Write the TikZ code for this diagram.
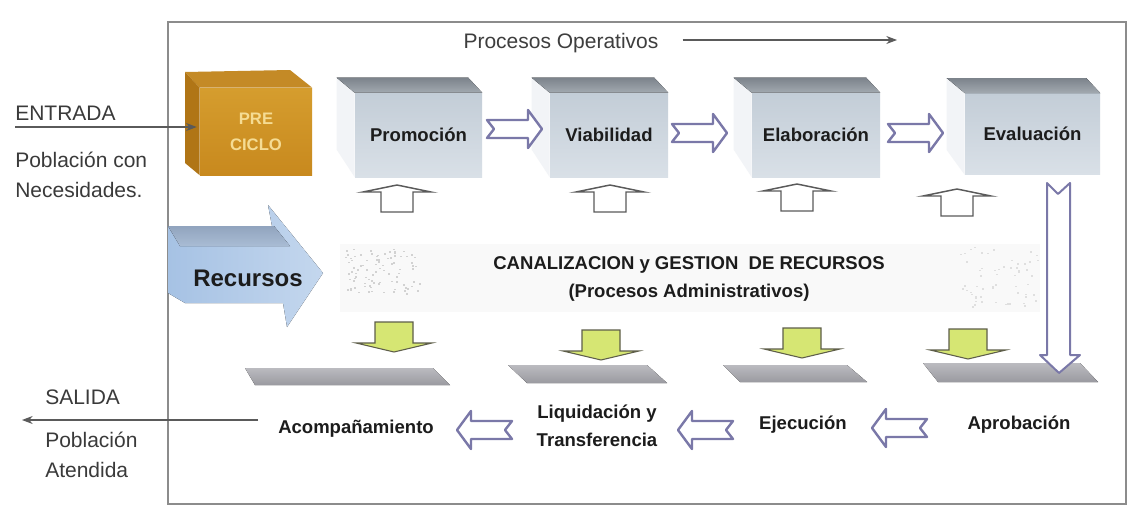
\documentclass[tikz,border=0pt]{standalone}
\usepackage{fontspec}
\setmainfont{Liberation Sans}
\usetikzlibrary{arrows.meta,calc}
\definecolor{framec}{HTML}{8C8C8C}
\definecolor{hollowc}{HTML}{7A78A8}
\definecolor{upc}{HTML}{5A5A5A}
\definecolor{boxfront}{HTML}{C3CDD7}
\definecolor{boxfront2}{HTML}{D9E0E7}
\definecolor{boxtop}{HTML}{7C838B}
\definecolor{boxtop2}{HTML}{A2A9B0}
\definecolor{orangef}{HTML}{D59D2E}
\definecolor{orangef2}{HTML}{C8891E}
\definecolor{oranget}{HTML}{C48A26}
\definecolor{orangel}{HTML}{B07516}
\definecolor{pretext}{HTML}{F5DC94}
\definecolor{recf}{HTML}{A6C2E4}
\definecolor{recf2}{HTML}{C4D7EE}
\definecolor{rect}{HTML}{91A4BE}
\definecolor{rect2}{HTML}{A9BCD4}
\definecolor{greenf}{HTML}{D6E673}
\definecolor{greend}{HTML}{5E5E4A}
\definecolor{platc}{HTML}{BBBBC0}
\definecolor{platc2}{HTML}{9A9AA0}
\definecolor{textc}{HTML}{1C1C1C}
\definecolor{labc}{HTML}{3A3A3A}
\definecolor{linec}{HTML}{5A5A5A}
\tikzset{
  frameline/.style={draw=framec, line width=0.9pt},
  hollow/.style={draw=hollowc, fill=white, line width=1.8pt, line join=round},
  uparr/.style={draw=upc, fill=white, line width=1.1pt},
  grarr/.style={draw=greend, fill=greenf, line width=0.8pt},
  platf/.style={top color=platc, bottom color=platc2, draw=none},
  boxface/.style={rectangle, inner sep=0pt, top color=boxfront, bottom color=boxfront2, draw=none,
    font=\fontsize{13.9}{16}\selectfont\bfseries, text=textc},
  topface/.style={top color=boxtop, bottom color=boxtop2, draw=none},
  sideface/.style={fill=boxfront2!35!white, draw=none},
  boxlabel/.style={font=\fontsize{13.9}{21}\selectfont\bfseries, text=textc, inner sep=0pt},
  sidelabel/.style={font=\fontsize{15.75}{22.5}\selectfont, text=labc, anchor=west, inner sep=0pt},
  arrowline/.style={draw=linec, line width=0.8pt, -{Stealth[length=8pt,width=6pt]}},
  rarrow/.pic={\path[hollow] (0,-9) -- (41,-9) -- (41,-19) -- (55,0) -- (41,19) -- (41,9) -- (0,9) -- (7,0) -- cycle;},
  uarrow/.pic={\path[uparr] (-16,0) -- (-16,-20) -- (-34,-20) -- (0,-27) -- (34,-20) -- (16,-20) -- (16,0) -- cycle;},
  garrow/.pic={\path[grarr] (-19,-30) -- (19,-30) -- (19,-9) -- (38,-9) -- (0,0) -- (-38,-9) -- (-19,-9) -- cycle;}
}
\begin{document}
\begin{tikzpicture}[x=0.75pt,y=-0.75pt]
\useasboundingbox (0,0) rectangle (1129,507);
\fill[white] (0,0) rectangle (1129,507);
% frame
\draw[frameline] (168,22) rectangle (1126,504);
% band behind administrative processes
\fill[black!2.5] (340,244) rectangle (1040,312);
\pgfmathsetseed{7}
\foreach \k in {1,...,90}{
  \pgfmathsetmacro\sx{345+75*rnd}
  \pgfmathsetmacro\sy{248+45*rnd}
  \fill[gray!35] (\sx,\sy) rectangle ++(2,1.6);
}
\foreach \k in {1,...,60}{
  \pgfmathsetmacro\sx{960+78*rnd}
  \pgfmathsetmacro\sy{246+60*rnd}
  \fill[gray!25] (\sx,\sy) rectangle ++(2,1.6);
}
% Procesos Operativos
\node[font=\fontsize{15.75}{19}\selectfont, text=textc!85!white, inner sep=0pt] (po) at (561,43) {Procesos Operativos};
\coordinate (poend) at (897,40);
\draw[arrowline] ($(po.east)+(24,-3)$) -- (poend);
% PRE CICLO cube
\node[rectangle, inner sep=0pt, minimum width=84pt, minimum height=65.25pt, top color=orangef, bottom color=orangef2,
  font=\fontsize{12.5}{19.5}\selectfont\bfseries, text=pretext, align=center] (pre) at (256,131.5) {PRE\\CICLO};
\fill[oranget] (185,72) -- (290,70) -- (pre.north east) -- (pre.north west) -- cycle;
\fill[orangel] (185,72) -- (pre.north west) -- (pre.south west) -- (185,163) -- cycle;
% entry
\node[sidelabel] (ent) at (15,113) {ENTRADA};
\node[sidelabel, align=left] (pob) at (15,175) {Población con\\Necesidades.};
\coordinate (entstart) at (15,127);
\draw[arrowline] (entstart) -- ($(pre.west |- entstart)+(-3,0)$);
% operative boxes
\node[boxface, minimum width=95.25pt, minimum height=63pt] (promo) at (418.5,135) {Promoción};
\node[boxface, minimum width=88.5pt, minimum height=63pt] (viab) at (609,135) {Viabilidad};
\node[boxface, minimum width=96pt, minimum height=63pt] (elab) at (816,135) {Elaboración};
\node[boxface, minimum width=101.25pt, minimum height=61pt] (eval) at (1032.5,134) {Evaluación};
\foreach \b in {promo,viab,elab,eval}{
  \fill[sideface] (\b.north west) -- ++(-18,-15) -- ++(0,72) -- (\b.south west) -- cycle;
  \fill[topface] (\b.north west) -- ++(-18,-15) -- ($(\b.north east)+(-14,-15)$) -- (\b.north east) -- cycle;
}
% arrows between boxes
\pic at (487,129) {rarrow};
\pic at (672,133) {rarrow};
\pic at (888,133) {rarrow};
% up arrows
\pic at (397,212) {uarrow};
\pic at (610,212) {uarrow};
\pic at (797,211) {uarrow};
\pic at (957,216) {uarrow};
% Recursos arrow
\fill[left color=recf, right color=recf2] (168,226) -- (272,226) -- (268,205) -- (323,273) -- (287,327) -- (283,303) -- (185,303) -- (168,293) -- cycle;
\fill[top color=rect, bottom color=rect2] (168,226) -- (274,226) -- (290,246) -- (180,246) -- cycle;
\node[font=\fontsize{18}{20}\selectfont\bfseries, text=textc, inner sep=0pt] (rec) at (248,278) {Recursos};
% administrative title
\node[boxlabel, align=center] (canal) at (689,279) {CANALIZACION y GESTION\ \ DE RECURSOS\\(Procesos Administrativos)};
% platforms
\fill[platf] (245,368) -- (433,368) -- (450,385) -- (255,385) -- cycle;
\fill[platf] (508,365) -- (647,365) -- (667,383) -- (527,383) -- cycle;
\fill[platf] (723,365) -- (847,365) -- (867,382) -- (740,382) -- cycle;
\fill[platf] (923,363) -- (1080,363) -- (1098,382) -- (938,382) -- cycle;
% green arrows
\pic at (394,352) {garrow};
\pic at (601,360) {garrow};
\pic at (802,358) {garrow};
\pic at (968,359) {garrow};
% evaluation down arrow
\path[hollow, line width=1.5pt] (1047,183) -- (1058,194) -- (1070,183) -- (1070,355) -- (1080,355) -- (1059,373) -- (1040,355) -- (1047,355) -- cycle;
% bottom labels
\node[boxlabel] (acomp) at (356,429) {Acompañamiento};
\node[boxlabel, align=center] (liq) at (597,426) {Liquidación y\\Transferencia};
\node[boxlabel] (ejec) at (803,425) {Ejecución};
\node[boxlabel] (aprob) at (1019,425) {Aprobación};
\pic[xscale=-1] at (512,430) {rarrow};
\pic[xscale=-1] at (733,430) {rarrow};
\pic[xscale=-1] at (927,428) {rarrow};
% exit
\node[sidelabel] (sal) at (45,397) {SALIDA};
\node[sidelabel, align=left] (pat) at (45,455) {Población\\Atendida};
\coordinate (salstart) at (258,420);
\coordinate (salend) at (22,420);
\draw[arrowline] (salstart) -- (salend);
\end{tikzpicture}
\end{document}
